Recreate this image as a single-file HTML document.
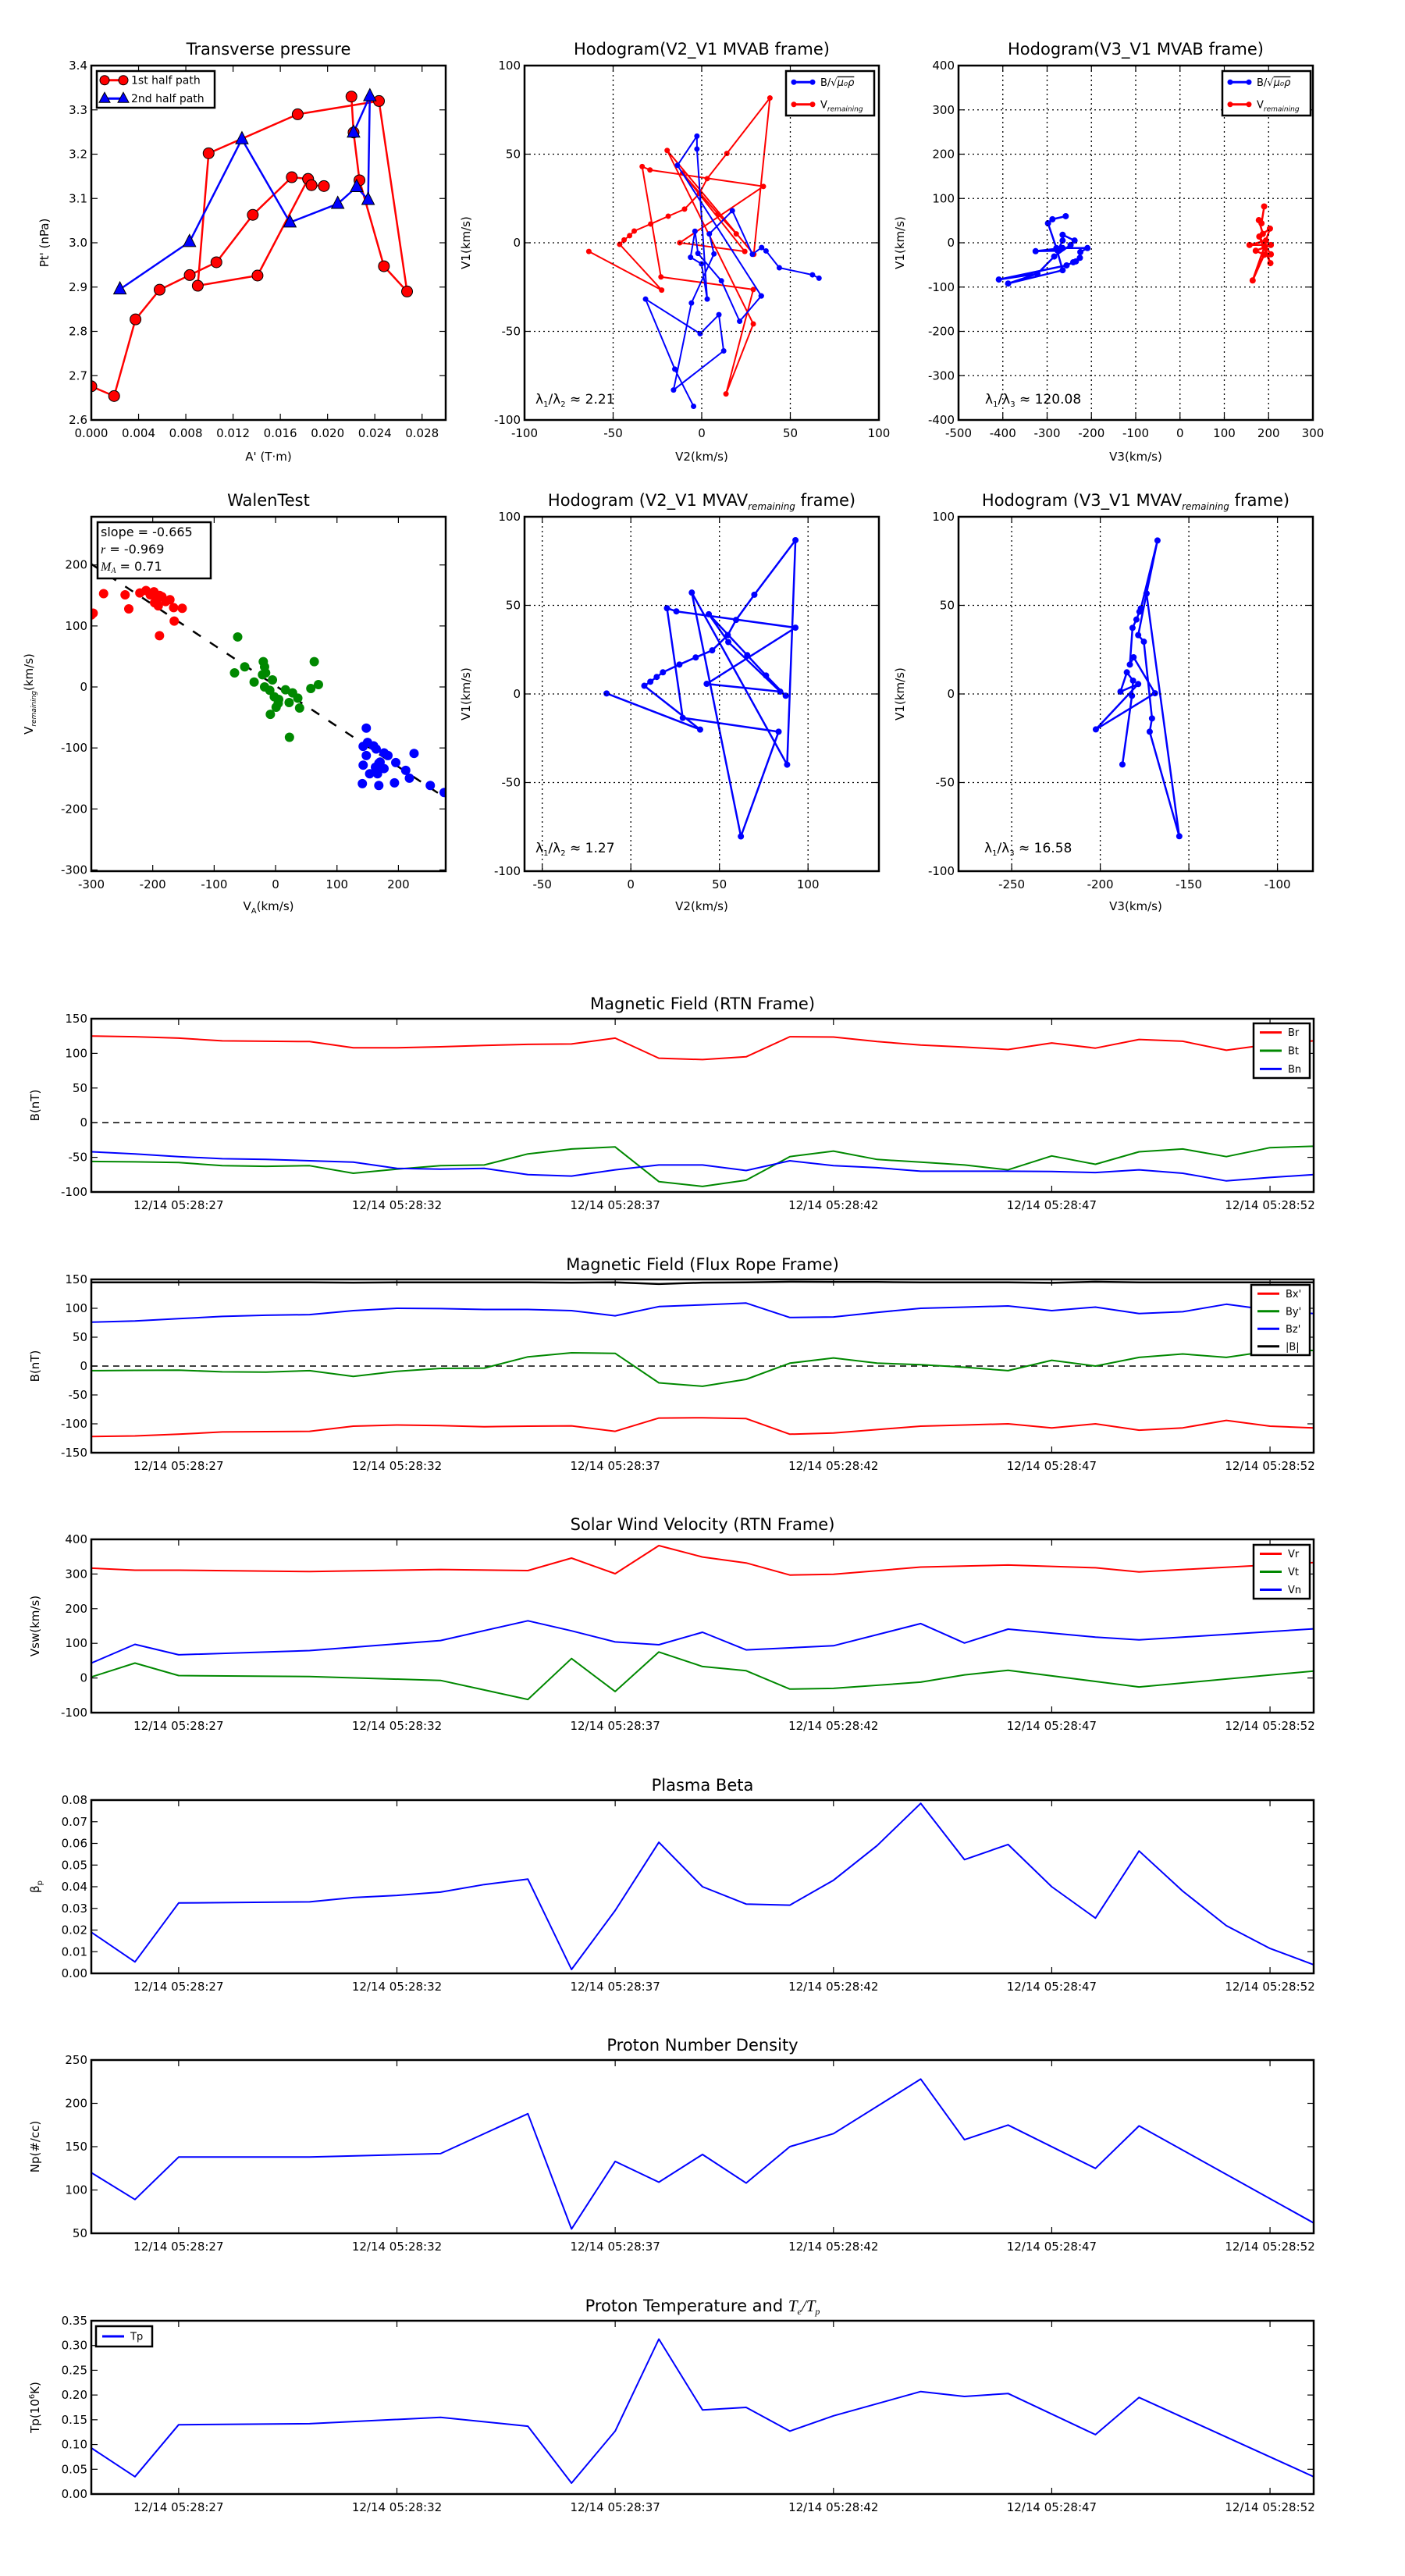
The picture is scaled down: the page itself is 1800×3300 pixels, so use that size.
<!DOCTYPE html>
<html><head><meta charset="utf-8">
<style>
html,body{margin:0;padding:0;background:#fff;}
svg{display:block;font-family:"DejaVu Sans","Liberation Sans",sans-serif;}
</style></head>
<body>
<svg id="fig" xmlns="http://www.w3.org/2000/svg" width="1800" height="3300" viewBox="0 0 1800 3300"></svg>
<script>
// ---------- Transverse pressure ----------
const tpRedA = [0.0000,0.00193,0.00374,0.00578,0.00833,0.01059,0.01367,0.01697,0.01835,0.01407,0.00901,0.00993,0.01747,0.02435,0.02673,0.02477,0.02270,0.02220,0.02202,null,0.01835,0.01864,0.01969];
const tpRedP = [2.676,2.654,2.827,2.894,2.927,2.956,3.063,3.148,3.144,2.926,2.903,3.202,3.290,3.320,2.890,2.947,3.141,3.249,3.330,null,3.144,3.130,3.128];
const tpBlueA = [0.00242,0.00831,0.01275,0.01681,0.02086,0.02246,0.02343,0.02358,0.02220];
const tpBlueP = [2.895,3.002,3.234,3.046,3.088,3.126,3.097,3.331,3.249];
// ---------- Hodogram V2_V1 MVAB ----------
const h1BlueX = [66.2,62.5,43.8,36.3,33.8,28.6,17.3,4.3,6.9,-5.8,-15.9,12.4,9.7,-0.9,-31.7,-15.2,-4.6,null,33.6,-13.7,-2.7,-2.7,3.1,-0.1,-6.3,-3.8,-2.1,11.1,21.4,33.6];
const h1BlueY = [-20.0,-18.1,-14.1,-4.6,-2.7,-6.5,18.1,5.0,-6.3,-34.0,-83.1,-61.0,-40.6,-51.3,-31.8,-71.3,-92.3,null,-30.0,43.7,60.2,52.9,-31.8,-11.9,-8.2,6.5,-6.0,-21.5,-44.3,-30.0];
const h1RedX = [-63.7,-22.6,-46.3,-43.8,-40.7,-38.1,-28.8,-18.9,-9.7,-1.3,3.1,14.2,38.5,29.4,-19.5,29.1,13.7,29.1,-23.0,-33.6,-29.2,34.8,-12.4,24.3,-10.8,9.1,19.5];
const h1RedY = [-4.9,-26.7,-0.9,1.6,4.0,6.6,10.6,15.0,19.0,27.8,36.2,50.4,81.7,-6.5,52.1,-45.8,-85.3,-26.4,-19.3,43.0,41.1,31.8,0.0,-4.9,39.3,16.3,5.0];
// ---------- Hodogram V3_V1 MVAB ----------
const h3BlueX = [-258,-288,-298,-279,-265,-388,-322,-284,-247,-238,-265,-265,-276,-326,-265,-209,-225,-226,-235,-241,-256,-409,-322];
const h3BlueY = [60,53,44,-12,-62,-92,-70,-31,-5,5,18,5,-18,-19,-12,-12,-21,-34,-42,-44,-51,-83,-70];
const h3RedX = [190,184,178,187,203,194,157,205,171,190,205,179,204,191,164,190];
const h3RedY = [82,44,51,20,32,5,-5,-5,-18,-27,-26,14,-46,-8,-85,-27];
// ---------- Walen test ----------
const walenSlope = -0.665;
const walenIntercept = 2;
const walenRedX = [-300,-297,-280,-245,-239,-221,-211,-198,-197,-191,-189,-185,-179,-172,-166,-165,-152,-189,-194,-204];
const walenRedY = [118,121,153,151,128,154,158,156,138,133,150,148,140,143,130,108,129,84,142,151];
const walenGreenX = [-61.7,-50.2,-66.8,-34.9,-20.0,-17.9,-16.2,-21.3,-5.1,-17.9,-9.4,-2.1,5.1,4.3,0.9,-8.5,16.2,27.7,22.1,36.2,39.1,22.6,63.0,57.4,69.8];
const walenGreenY = [82,33,23,8,41.5,33,23,20,11.5,0,-5.6,-16.2,-20.5,-26.9,-33.3,-44.9,-4.7,-9.8,-25.6,-18.4,-34.6,-82.5,41.5,-2.6,3.8];
const walenBlueX = [147.7,142.6,149.8,159.6,163.8,147.7,142.6,153.2,166.0,162.6,168.1,176.6,183.0,176.6,195.7,211.9,217.9,141.3,168.1,193.6,225.5,251.9,274.5,170.2];
const walenBlueY = [-67.5,-97.4,-91.0,-96.6,-101.7,-112.4,-128.2,-142.3,-142.3,-131.6,-125.2,-108.1,-112.4,-133.8,-123.9,-136.8,-149.6,-158.5,-161.5,-157.3,-109.0,-161.5,-173.1,-123.1];
// ---------- Hodogram MVAV (V2_V1) ----------
const m2X = [-13.7,39.1,7.6,11.0,14.6,18.1,27.4,36.6,45.9,54.7,59.4,69.7,92.9,88.2,34.4,62.1,83.4,29.3,20.4,25.7,92.9,42.8,84.3,55.0,44.0,65.7,76.3,87.4];
const m2Y = [0.3,-20.1,4.6,6.9,9.6,12.2,16.6,20.6,24.6,33.2,41.8,56.0,86.8,-39.9,57.2,-80.4,-21.3,-13.5,48.4,46.6,37.4,5.7,1.3,29.3,45.0,21.9,10.4,-1.0];
// ---------- Hodogram MVAV (V3_V1) ----------
const m3X = [-187.5,-182.1,-181.5,-185.0,-188.6,-178.6,-202.5,-169.1,-181.2,-183.3,-181.8,-179.6,-177.9,-177.1,-167.7,-173.9,-155.4,-172.1,-170.8,-175.4,-178.6,-173.9];
const m3Y = [-39.8,-1.0,7.5,12.2,1.3,5.6,-20.0,0.4,20.7,16.6,37.3,42.0,46.4,48.3,86.6,56.7,-80.3,-21.3,-13.8,29.5,33.2,56.7];
// ---------- Time series ----------
const timeTickVals = [27,32,37,42,47,52];
const timeTickLabels = ["12/14 05:28:27","12/14 05:28:32","12/14 05:28:37","12/14 05:28:42","12/14 05:28:47","12/14 05:28:52"];
const tB = [25,26,27,28,29,30,31,32,33,34,35,36,37,38,39,40,41,42,43,44,45,46,47,48,49,50,51,52,53];
const Br = [125,124,122,118,117.5,117,108,108,109.5,111.5,113,113.5,122,93,91,95,124,123.5,117,112,109,105.5,115,107.5,120,117.5,104.5,113,118];
const Bt = [-56,-56.5,-57.5,-62,-63,-62,-73,-67,-62,-61,-45,-38,-35,-85,-92,-83,-49,-41,-53,-57,-61,-68,-48,-60,-42,-38,-49,-36,-34];
const Bn = [-42,-45,-49,-52,-53,-55,-57,-66,-67,-66,-75,-77,-68,-61,-61,-69,-55,-62,-65,-70,-70,-70,-70.5,-72,-68,-73,-84,-79,-75];
const Bxp = [-122,-121,-118,-114,-113.5,-113,-104,-102,-103,-105,-104,-103.5,-113,-90,-89.5,-91,-118,-116,-110,-104,-102,-100,-107,-100,-111,-107,-94,-104,-107];
const Byp = [-8,-7.5,-7,-10,-10.5,-8,-18,-9,-4,-3.5,16,23,22,-29,-35,-23,5,14,5,2.5,-2,-8,10,0,15,21,15,26,27];
const Bzp = [76,78,82,86,88,89,96,100,99.5,98,98,96,87,103,106,109,84,85,93,100,102,104,96,102,91,94,107,97,91];
const Bmag = [145,145,145,145,145,145,144.5,145,145,145,145,144.5,145,142,144.5,145,146,145.5,145.5,145,145,145,144,146,145,145,145,145,145];
const tVr = [25,26,27,30,33,35,36,37,38,39,40,41,42,44,46,48,49,53];
const Vr = [317,311,311,307,313,310,346,301,382,349,332,297,299,320,326,318,306,333];
const tVt = [25,26,27,30,33,35,36,37,38,39,40,41,42,44,45,46,48,49,53];
const Vt = [3,43,7,4,-7,-62,56,-39,75,33,21,-32,-30,-12,9,22,-10,-26,20];
const tVn = [25,26,27,30,33,35,36,37,38,39,40,42,44,45,46,48,49,53];
const Vn = [43,97,67,79,108,165,136,104,96,132,81,93,157,101,141,118,110,142];
const tBeta = [25,26,27,30,31,32,33,34,35,36,37,38,39,40,41,42,43,44,45,46,47,48,49,50,51,52,53];
const beta = [0.019,0.0053,0.0325,0.033,0.035,0.036,0.0375,0.041,0.0435,0.0018,0.029,0.0605,0.040,0.032,0.0315,0.043,0.059,0.0785,0.0525,0.0595,0.040,0.0255,0.0565,0.038,0.022,0.0115,0.004];
const tNp = [25,26,27,30,33,35,36,37,38,39,40,41,42,44,45,46,48,49,53];
const Np = [120,89,138,138,142,188,55,133,109,141,108,150,165,228,158,175,125,174,62];
const Tp = [0.093,0.035,0.140,0.142,0.155,0.137,0.022,0.127,0.313,0.170,0.175,0.127,0.158,0.207,0.197,0.203,0.120,0.195,0.035];

const NS = 'http://www.w3.org/2000/svg';
const svg = document.getElementById('fig');
let clipId = 0;
function mk(tag, attrs, parent){
  const e = document.createElementNS(NS, tag);
  for (const k in attrs) e.setAttribute(k, attrs[k]);
  (parent || svg).appendChild(e);
  return e;
}
function rng(a,b,s){const r=[];for(let v=a;v<=b+1e-9;v+=s) r.push(Math.round(v*1e6)/1e6);return r;}
function makeAxes(name,x0,y0,w,h,xmin,xmax,ymin,ymax){
  const g = mk('g',{});
  
  
  clipId++;
  const cp = mk('clipPath',{id:'c'+clipId},g);
  mk('rect',{x:x0,y:y0,width:w,height:h},cp);
  const plot = mk('g',{'clip-path':'url(#c'+clipId+')'},g);
  return {g,plot,x0,y0,w,h,sx:v=>x0+(v-xmin)/(xmax-xmin)*w,sy:v=>y0+h-(v-ymin)/(ymax-ymin)*h};
}
function frame(ax,xt,xl,yt,yl,grid,tickFs){
  const fs = tickFs||15;
  if (grid){
    xt.forEach(v=>{const X=ax.sx(v); if(X>ax.x0+1&&X<ax.x0+ax.w-1){const l=mk('line',{x1:X,x2:X,y1:ax.y0,y2:ax.y0+ax.h,stroke:'#000','stroke-width':1.3,'stroke-dasharray':'2,4'},ax.g);
      
      }});
    yt.forEach(v=>{const Y=ax.sy(v); if(Y>ax.y0+1&&Y<ax.y0+ax.h-1){const l=mk('line',{x1:ax.x0,x2:ax.x0+ax.w,y1:Y,y2:Y,stroke:'#000','stroke-width':1.3,'stroke-dasharray':'2,4'},ax.g);
      
      }});
  }
  xt.forEach((v,i)=>{const X=ax.sx(v);
    mk('line',{x1:X,x2:X,y1:ax.y0+ax.h,y2:ax.y0+ax.h-8,stroke:'#000','stroke-width':1.2},ax.g);
    mk('line',{x1:X,x2:X,y1:ax.y0,y2:ax.y0+8,stroke:'#000','stroke-width':1.2},ax.g);
    const t=mk('text',{x:X,y:ax.y0+ax.h+22,'font-size':fs,'text-anchor':'middle'},ax.g); t.textContent=xl[i];
    
    
  });
  yt.forEach((v,i)=>{const Y=ax.sy(v);
    mk('line',{x1:ax.x0,x2:ax.x0+8,y1:Y,y2:Y,stroke:'#000','stroke-width':1.2},ax.g);
    mk('line',{x1:ax.x0+ax.w,x2:ax.x0+ax.w-8,y1:Y,y2:Y,stroke:'#000','stroke-width':1.2},ax.g);
    const t=mk('text',{x:ax.x0-5,y:Y+5,'font-size':fs,'text-anchor':'end'},ax.g); t.textContent=yl[i];
    
    
  });
  const r=mk('rect',{x:ax.x0,y:ax.y0,width:ax.w,height:ax.h,fill:'none',stroke:'#000','stroke-width':2.5},ax.g);
  
  
}
function pathD(ax,xs,ys){
  let d='',pen=false;
  for(let i=0;i<xs.length;i++){
    if(xs[i]===null||ys[i]===null){pen=false;continue;}
    d+=(pen?'L':'M')+ax.sx(xs[i]).toFixed(1)+','+ax.sy(ys[i]).toFixed(1);pen=true;
  }
  return d;
}
function line(ax,xs,ys,color,w,name,dash){
  const p=mk('path',{d:pathD(ax,xs,ys),fill:'none',stroke:color,'stroke-width':w,'stroke-linejoin':'round'},ax.plot);
  if(dash) p.setAttribute('stroke-dasharray',dash);
  
  
  return p;
}
function markers(ax,xs,ys,shape,r,fill,stroke,name){
  const g=mk('g',{},ax.plot);
  
  
  for(let i=0;i<xs.length;i++){
    if(xs[i]===null) continue;
    const X=ax.sx(xs[i]),Y=ax.sy(ys[i]);
    if(shape==='tri') mk('polygon',{points:`${X},${Y-r*1.2} ${X-r},${Y+r*0.75} ${X+r},${Y+r*0.75}`,fill:fill,stroke:stroke,'stroke-width':1},g);
    else mk('circle',{cx:X,cy:Y,r:r,fill:fill,stroke:stroke,'stroke-width':stroke==='none'?0:1},g);
  }
}
function text(x,y,str,fs,anchor,name,rot){
  const t=mk('text',{x:x,y:y,'font-size':fs,'text-anchor':anchor||'middle'});
  if(rot) t.setAttribute('transform',`rotate(${rot},${x},${y})`);
  t.innerHTML=str;
  
  
  return t;
}
function legend(x,y,w,h,items,fs,name){
  const g=mk('g',{});
  
  
  mk('rect',{x:x,y:y,width:w,height:h,fill:'#fff',stroke:'#000','stroke-width':2.5},g);
  const step=h/items.length;
  items.forEach((it,i)=>{
    const cy=y+step*(i+0.5);
    mk('line',{x1:x+8,x2:x+36,y1:cy,y2:cy,stroke:it.c,'stroke-width':3},g);
    if(it.m==='circle'){mk('circle',{cx:x+10,cy:cy,r:it.r||6,fill:it.c,stroke:'#000'},g);mk('circle',{cx:x+34,cy:cy,r:it.r||6,fill:it.c,stroke:'#000'},g);}
    if(it.m==='dot'){mk('circle',{cx:x+10,cy:cy,r:3.5,fill:it.c},g);mk('circle',{cx:x+34,cy:cy,r:3.5,fill:it.c},g);}
    if(it.m==='tri'){[x+10,x+34].forEach(X=>mk('polygon',{points:`${X},${cy-8} ${X-7},${cy+5} ${X+7},${cy+5}`,fill:it.c,stroke:'#000'},g));}
    const t=mk('text',{x:x+44,y:cy+fs*0.35,'font-size':fs},g); t.innerHTML=it.label;
  });
}
const fmt=(v,d)=>v.toFixed(d);

// ===== Row 1 =====
let ax=makeAxes('transverse-pressure-chart',117,84,454,454,0,0.030,2.6,3.4);
{const xt=rng(0,0.028,0.004), yt=rng(2.6,3.4,0.1);
frame(ax,xt,xt.map(v=>fmt(v,3)),yt,yt.map(v=>fmt(v,1)),false);}
line(ax,tpRedA,tpRedP,'#f00',2.5,'first-half-path-line');
line(ax,tpBlueA,tpBlueP,'#00f',2.5,'second-half-path-line');
markers(ax,tpRedA,tpRedP,'circle',7,'#f00','#000','first-half-path-markers');
markers(ax,tpBlueA,tpBlueP,'tri',8,'#00f','#000','second-half-path-markers');
legend(124,91,151,47,[{c:'#f00',m:'circle',label:'1st half path'},{c:'#00f',m:'tri',label:'2nd half path'}],14,'pressure-legend');
text(344,70,'Transverse pressure',21,'middle','pressure-title');
text(344,590,"A' (T·m)",15,'middle','pressure-x-title');
text(62,311,"Pt' (nPa)",15,'middle','pressure-y-title',-90);

ax=makeAxes('hodogram-v2-v1-mvab',672,84,454,454,-100,100,-100,100);
{const t=rng(-100,100,50); frame(ax,t,t.map(String),t,t.map(String),true);}
line(ax,h1RedX,h1RedY,'#f00',2,'v-remaining-path');
markers(ax,h1RedX,h1RedY,'circle',3.5,'#f00','none','v-remaining-points');
line(ax,h1BlueX,h1BlueY,'#00f',2,'b-alfven-path');
markers(ax,h1BlueX,h1BlueY,'circle',3.5,'#00f','none','b-alfven-points');
legend(1007,91,113,57,[{c:'#00f',m:'dot',label:'B/√<tspan text-decoration="overline" font-style="italic">μ₀ρ</tspan>'},{c:'#f00',m:'dot',label:'V<tspan font-size="9" font-style="italic" dy="4">remaining</tspan>'}],13,'hodogram1-legend');
text(686,517,'λ<tspan font-size="10" dy="4">1</tspan><tspan dy="-4">/λ</tspan><tspan font-size="10" dy="4">2</tspan><tspan dy="-4"> ≈ 2.21</tspan>',17,'start','lambda-ratio-1');
text(899,70,'Hodogram(V2_V1 MVAB frame)',21,'middle','hodogram1-title');
text(899,590,'V2(km/s)',15,'middle','hodogram1-x-title');
text(602,311,'V1(km/s)',15,'middle','hodogram1-y-title',-90);

ax=makeAxes('hodogram-v3-v1-mvab',1228,84,454,454,-500,300,-400,400);
{const xt=rng(-500,300,100), yt=rng(-400,400,100); frame(ax,xt,xt.map(String),yt,yt.map(String),true);}
line(ax,h3BlueX,h3BlueY,'#00f',2.5,'b-alfven-path-3');
markers(ax,h3BlueX,h3BlueY,'circle',4,'#00f','none','b-alfven-points-3');
line(ax,h3RedX,h3RedY,'#f00',2.5,'v-remaining-path-3');
markers(ax,h3RedX,h3RedY,'circle',4,'#f00','none','v-remaining-points-3');
legend(1566,91,113,57,[{c:'#00f',m:'dot',label:'B/√<tspan text-decoration="overline" font-style="italic">μ₀ρ</tspan>'},{c:'#f00',m:'dot',label:'V<tspan font-size="9" font-style="italic" dy="4">remaining</tspan>'}],13,'hodogram2-legend');
text(1262,517,'λ<tspan font-size="10" dy="4">1</tspan><tspan dy="-4">/λ</tspan><tspan font-size="10" dy="4">3</tspan><tspan dy="-4"> ≈ 120.08</tspan>',17,'start','lambda-ratio-2');
text(1455,70,'Hodogram(V3_V1 MVAB frame)',21,'middle','hodogram2-title');
text(1455,590,'V3(km/s)',15,'middle','hodogram2-x-title');
text(1158,311,'V1(km/s)',15,'middle','hodogram2-y-title',-90);

// ===== Row 2 =====
ax=makeAxes('walen-test-chart',117,662,454,454,-300,277,-302,279);
{const xt=rng(-300,200,100), yt=rng(-300,200,100); frame(ax,xt,xt.map(String),yt,yt.map(String),false);}
line(ax,[-300,277],[walenSlope*-300+walenIntercept,walenSlope*277+walenIntercept],'#000',2.5,'walen-fit-line','12,14');
markers(ax,walenRedX,walenRedY,'circle',6,'#f00','none','walen-red-points');
markers(ax,walenGreenX,walenGreenY,'circle',6,'#080','none','walen-green-points');
markers(ax,walenBlueX,walenBlueY,'circle',6,'#00f','none','walen-blue-points');
{const g=mk('g',{});


mk('rect',{x:125,y:669,width:145,height:72,fill:'#fff',stroke:'#000','stroke-width':2.5},g);
let t=mk('text',{x:129,y:687,'font-size':16},g);t.textContent='slope = -0.665';
t=mk('text',{x:129,y:709,'font-size':16},g);t.innerHTML='<tspan font-style="italic" font-family="Liberation Serif">r</tspan> = -0.969';
t=mk('text',{x:129,y:731,'font-size':16},g);t.innerHTML='<tspan font-style="italic" font-family="Liberation Serif">M<tspan font-size="10" dy="3">A</tspan></tspan><tspan dy="-3"> = 0.71</tspan>';}
text(344,648,'WalenTest',21,'middle','walen-title');
text(344,1166,'V<tspan font-size="10" dy="4">A</tspan><tspan dy="-4">(km/s)</tspan>',15,'middle','walen-x-title');
text(42,889,'V<tspan font-size="9" font-style="italic" dy="4">remaining</tspan><tspan dy="-4">(km/s)</tspan>',15,'middle','walen-y-title',-90);

ax=makeAxes('hodogram-v2-v1-mvav',672,662,454,454,-60,140,-100,100);
{const xt=rng(-50,100,50), yt=rng(-100,100,50); frame(ax,xt,xt.map(String),yt,yt.map(String),true);}
line(ax,m2X,m2Y,'#00f',2.5,'mvav-v2-path');
markers(ax,m2X,m2Y,'circle',4,'#00f','none','mvav-v2-points');
text(686,1092,'λ<tspan font-size="10" dy="4">1</tspan><tspan dy="-4">/λ</tspan><tspan font-size="10" dy="4">2</tspan><tspan dy="-4"> ≈ 1.27</tspan>',17,'start','lambda-ratio-3');
text(899,648,'Hodogram (V2_V1 MVAV<tspan font-size="12" font-style="italic" dy="5">remaining</tspan><tspan dy="-5"> frame)</tspan>',21,'middle','hodogram3-title');
text(899,1166,'V2(km/s)',15,'middle','hodogram3-x-title');
text(602,889,'V1(km/s)',15,'middle','hodogram3-y-title',-90);

ax=makeAxes('hodogram-v3-v1-mvav',1228,662,454,454,-280,-80,-100,100);
{const xt=rng(-250,-100,50), yt=rng(-100,100,50); frame(ax,xt,xt.map(String),yt,yt.map(String),true);}
line(ax,m3X,m3Y,'#00f',2.5,'mvav-v3-path');
markers(ax,m3X,m3Y,'circle',4,'#00f','none','mvav-v3-points');
text(1261,1092,'λ<tspan font-size="10" dy="4">1</tspan><tspan dy="-4">/λ</tspan><tspan font-size="10" dy="4">3</tspan><tspan dy="-4"> ≈ 16.58</tspan>',17,'start','lambda-ratio-4');
text(1455,648,'Hodogram (V3_V1 MVAV<tspan font-size="12" font-style="italic" dy="5">remaining</tspan><tspan dy="-5"> frame)</tspan>',21,'middle','hodogram4-title');
text(1455,1166,'V3(km/s)',15,'middle','hodogram4-x-title');
text(1158,889,'V1(km/s)',15,'middle','hodogram4-y-title',-90);

// ===== Time series =====
function tsAxes(name,y0,ymin,ymax,ystep,dec,title,ylabel){
  const a=makeAxes(name,117,y0,1566,222,25,53,ymin,ymax);
  const yt=rng(ymin,ymax,ystep);
  frame(a,timeTickVals,timeTickLabels,yt,yt.map(v=>fmt(v,dec)),false);
  text(900,y0-12,title,21,'middle',name+'-title');
  text(50,y0+111,ylabel,15,'middle',name+'-y-title',-90);
  return a;
}
ax=tsAxes('magnetic-field-rtn',1305,-100,150,50,0,'Magnetic Field (RTN Frame)','B(nT)');
line(ax,[25,53],[0,0],'#000',1.5,'zero-line','8,6');
line(ax,tB,Br,'#f00',2,'br-line');
line(ax,tB,Bt,'#080',2,'bt-line');
line(ax,tB,Bn,'#00f',2,'bn-line');
legend(1606,1311,72,70,[{c:'#f00',label:'Br'},{c:'#080',label:'Bt'},{c:'#00f',label:'Bn'}],13,'rtn-legend');

ax=tsAxes('magnetic-field-flux-rope',1639,-150,150,50,0,'Magnetic Field (Flux Rope Frame)','B(nT)');
line(ax,[25,53],[0,0],'#000',1.5,'zero-line-2','8,6');
line(ax,tB,Bxp,'#f00',2,'bx-prime-line');
line(ax,tB,Byp,'#080',2,'by-prime-line');
line(ax,tB,Bzp,'#00f',2,'bz-prime-line');
line(ax,tB,Bmag,'#000',2.5,'b-magnitude-line');
legend(1603,1646,75,90,[{c:'#f00',label:"Bx'"},{c:'#080',label:"By'"},{c:'#00f',label:"Bz'"},{c:'#000',label:'|B|'}],13,'flux-rope-legend');

ax=tsAxes('solar-wind-velocity',1972,-100,400,100,0,'Solar Wind Velocity (RTN Frame)','Vsw(km/s)');
line(ax,tVr,Vr,'#f00',2,'vr-line');
line(ax,tVt,Vt,'#080',2,'vt-line');
line(ax,tVn,Vn,'#00f',2,'vn-line');
legend(1606,1979,72,69,[{c:'#f00',label:'Vr'},{c:'#080',label:'Vt'},{c:'#00f',label:'Vn'}],13,'velocity-legend');

ax=tsAxes('plasma-beta',2306,0,0.08,0.01,2,'Plasma Beta','β<tspan font-size="10" dy="4">p</tspan>');
line(ax,tBeta,beta,'#00f',2,'beta-line');

ax=tsAxes('proton-density',2639,50,250,50,0,'Proton Number Density','Np(#/cc)');
line(ax,tNp,Np,'#00f',2,'np-line');

ax=tsAxes('proton-temperature',2973,0,0.35,0.05,2,'Proton Temperature and <tspan font-style="italic" font-family="Liberation Serif">T<tspan font-size="12" dy="4">e</tspan><tspan dy="-4">/T</tspan><tspan font-size="12" dy="4">p</tspan></tspan>','Tp(10<tspan font-size="10" dy="-6">6</tspan><tspan dy="6">K)</tspan>');
line(ax,tNp,Tp,'#00f',2,'tp-line');
legend(123,2980,72,26,[{c:'#00f',label:'Tp'}],13,'tp-legend');
</script>
</body></html>
